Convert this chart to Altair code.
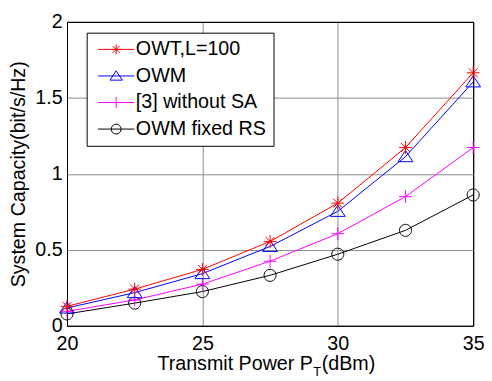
import altair as alt
import pandas as pd

# ---- data ----
power_dbm = [20, 22.5, 25, 27.5, 30, 32.5, 35]
series_names = ["OWT,L=100", "OWM", "[3] without SA", "OWM fixed RS"]
owt_l100 = [0.128, 0.241, 0.371, 0.555, 0.807, 1.173, 1.665]
owm = [0.117, 0.218, 0.343, 0.522, 0.753, 1.113, 1.605]
without_sa = [0.095, 0.170, 0.274, 0.425, 0.606, 0.850, 1.173]
owm_fixed_rs = [0.078, 0.149, 0.225, 0.332, 0.471, 0.628, 0.861]
x_ticks = [20, 25, 30, 35]
y_ticks = [0, 0.5, 1, 1.5, 2]
x_title_main = "Transmit Power P"
x_title_sub = "T"
x_title_unit = "(dBm)"
y_title = "System Capacity(bit/s/Hz)"

# ---- styling ----
colors = ["#ff0000", "#0000ff", "#ff00ff", "#000000"]
marker_paths = [
    "M-1,0L1,0M0,-1L0,1M-0.7,-0.7L0.7,0.7M-0.7,0.7L0.7,-0.7",
    "M0,-1.05L1.25,0.85L-1.25,0.85Z",
    "M-1,0L1,0M0,-1L0,1",
    "M-1,0A1,1 0 1,1 1,0A1,1 0 1,1 -1,0Z",
]
marker_sizes = [170, 144, 170, 150]
legend_line = "M-3.7,0L3.7,0"
legend_paths = [
    legend_line + "M-1,0L1,0M0,-1L0,1M-0.7,-0.7L0.7,0.7M-0.7,0.7L0.7,-0.7",
    legend_line + "M0,-1.05L1.25,0.85L-1.25,0.85Z",
    legend_line + "M-1.1,0L1.1,0M0,-1.1L0,1.1",
    legend_line + "M-1,0A1,1 0 1,1 1,0A1,1 0 1,1 -1,0Z",
]
FONT = "Liberation Sans"
GRID = "#8c8c8c"

rows = []
for name, vals in zip(series_names, [owt_l100, owm, without_sa, owm_fixed_rs]):
    for p, v in zip(power_dbm, vals):
        rows.append({"power": p, "capacity": v, "series": name})
df = pd.DataFrame(rows)

color_scale = alt.Scale(domain=series_names, range=colors)

x_enc = alt.X(
    "power:Q",
    scale=alt.Scale(domain=[20, 35], nice=False, zero=False),
    axis=alt.Axis(
        values=x_ticks,
        title=None,
        labelFlush=False,
        labelPadding=8,
        gridColor={"condition": {"test": "datum.value == 20 || datum.value == 35", "value": "black"}, "value": GRID},
    ),
)
y_enc = alt.Y(
    "capacity:Q",
    scale=alt.Scale(domain=[0, 2], nice=False, zero=False),
    axis=alt.Axis(
        values=y_ticks,
        format="~g",
        title=y_title,
        labelPadding=5,
        titleX=-43.5,
        titleY=154.5,
        titleAngle=270,
        titleAlign="center",
        titleBaseline="alphabetic",
        gridColor={"condition": {"test": "datum.value == 0 || datum.value == 2", "value": "black"}, "value": GRID},
    ),
)

line_layers = []
point_layers = []
for i in reversed(range(len(series_names))):
    s = series_names[i]
    base = alt.Chart(df).transform_filter(alt.datum.series == s)
    line_layers.append(
        base.mark_line(strokeWidth=1, color=colors[i]).encode(x=x_enc, y=y_enc)
    )
    point_layers.append(
        base.mark_point(shape=marker_paths[i], size=marker_sizes[i], filled=False,
                        strokeWidth=1, opacity=1, color=colors[i])
        .encode(x=x_enc, y=y_enc)
    )

leg_props = dict(
    title=None,
    orient="none",
    legendX=20,
    legendY=11,
    fillColor="white",
    strokeColor="black",
    padding=7,
    labelFont=FONT,
    labelFontSize=20,
    labelColor="black",
    labelLimit=0,
    symbolSize=100,
    symbolStrokeWidth=1,
    symbolOpacity=1,
    symbolOffset=13,
    labelOffset=10,
    rowPadding=7,
)
legend_layer = (
    alt.Chart(df)
    .transform_filter("false")
    .mark_point(filled=False, strokeWidth=1, opacity=1)
    .encode(
        color=alt.Color("series:N", scale=color_scale, legend=alt.Legend(**leg_props)),
        shape=alt.Shape("series:N", scale=alt.Scale(domain=series_names, range=legend_paths),
                        legend=alt.Legend(**leg_props)),
    )
)

t_main = alt.Chart(pd.DataFrame({"t": [x_title_main]})).mark_text(
    align="right", baseline="alphabetic", font=FONT, fontSize=20, color="black"
).encode(text="t:N", x=alt.value(250), y=alt.value(354))
t_sub = alt.Chart(pd.DataFrame({"t": [x_title_sub]})).mark_text(
    align="left", baseline="alphabetic", font=FONT, fontSize=13, color="black"
).encode(text="t:N", x=alt.value(250.5), y=alt.value(360))
t_unit = alt.Chart(pd.DataFrame({"t": [x_title_unit]})).mark_text(
    align="left", baseline="alphabetic", font=FONT, fontSize=20, color="black"
).encode(text="t:N", x=alt.value(259), y=alt.value(354))

chart = (
    alt.layer(*line_layers, *point_layers, legend_layer, t_main, t_sub, t_unit)
    .properties(
        width=413,
        height=309,
        autosize=alt.AutoSizeParams(type="none"),
        padding={"left": 60, "top": 11, "right": 11, "bottom": 50},
    )
    .configure_view(stroke="black", strokeWidth=1)
    .configure_axis(
        labelFont=FONT,
        labelFontSize=20,
        labelColor="black",
        titleFont=FONT,
        titleFontSize=20,
        titleFontWeight="normal",
        titleColor="black",
        ticks=False,
        tickSize=0,
        domain=False,
        grid=True,
        gridWidth=1,
    )
)

chart.save("out.html", embed_options={"renderer": "svg", "actions": False})
